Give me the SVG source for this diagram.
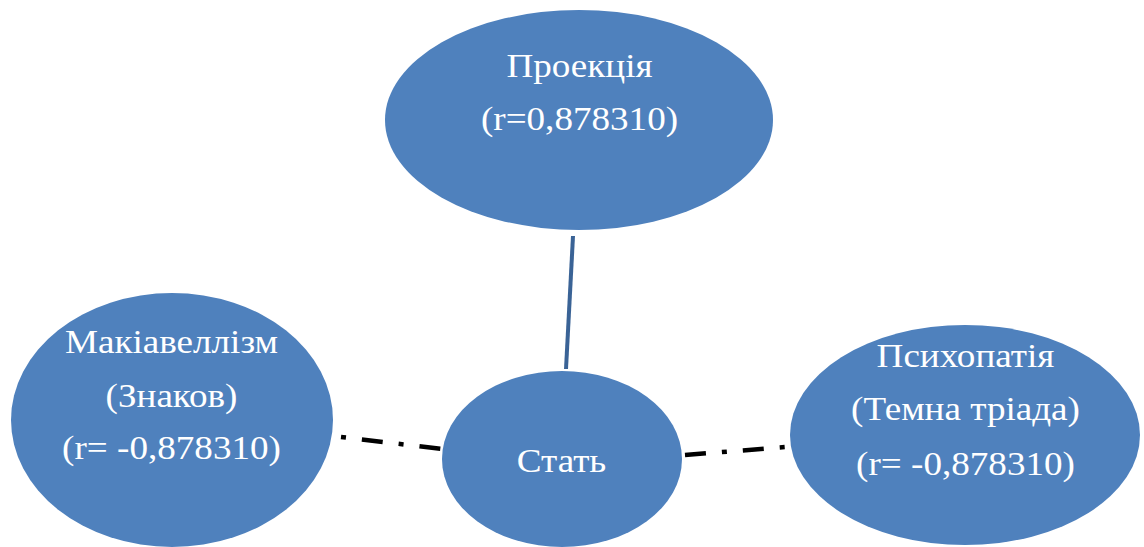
<svg xmlns="http://www.w3.org/2000/svg" width="1144" height="547" viewBox="0 0 1144 547">
<style>
.node{fill:#4f81bd;}
.t{font-family:"Liberation Serif","Times New Roman",serif;font-size:33px;fill:#ffffff;text-anchor:middle;}
.solid{stroke:#3a6396;stroke-width:4;fill:none;}
.dd{stroke:#000000;stroke-width:4.5;fill:none;stroke-dasharray:5 16 21 16;}
</style>
<rect width="1144" height="547" fill="#ffffff"/>
<g id="connectors">
<line class="solid" x1="573" y1="236" x2="566" y2="369"/>
<line class="dd" x1="341" y1="437" x2="442" y2="449"/>
<line class="dd" x1="685" y1="455" x2="786" y2="447" style="stroke-dasharray:21 16 5 16"/>
</g>
<g id="node-proektsiia">
<ellipse class="node" cx="579" cy="120" rx="194" ry="110"/>
<text class="t" transform="matrix(1.125 0 0 1 579.5 77)">Проекція</text>
<text class="t" transform="matrix(1.125 0 0 1 579.5 130)">(r=0,878310)</text>
</g>
<g id="node-makiavellizm">
<ellipse class="node" cx="172" cy="420" rx="161" ry="127"/>
<text class="t" transform="matrix(1.125 0 0 1 171.5 353)">Макіавеллізм</text>
<text class="t" transform="matrix(1.125 0 0 1 171.5 407)">(Знаков)</text>
<text class="t" transform="matrix(1.125 0 0 1 171.5 459)">(r= -0,878310)</text>
</g>
<g id="node-stat">
<ellipse class="node" cx="562" cy="459" rx="120" ry="88"/>
<text class="t" transform="matrix(1.125 0 0 1 561.5 472)">Стать</text>
</g>
<g id="node-psykhopatiia">
<ellipse class="node" cx="965" cy="435" rx="175" ry="110"/>
<text class="t" transform="matrix(1.125 0 0 1 965.5 367)">Психопатія</text>
<text class="t" transform="matrix(1.125 0 0 1 965.5 420)">(Темна тріада)</text>
<text class="t" transform="matrix(1.125 0 0 1 965.5 475)">(r= -0,878310)</text>
</g>
</svg>
